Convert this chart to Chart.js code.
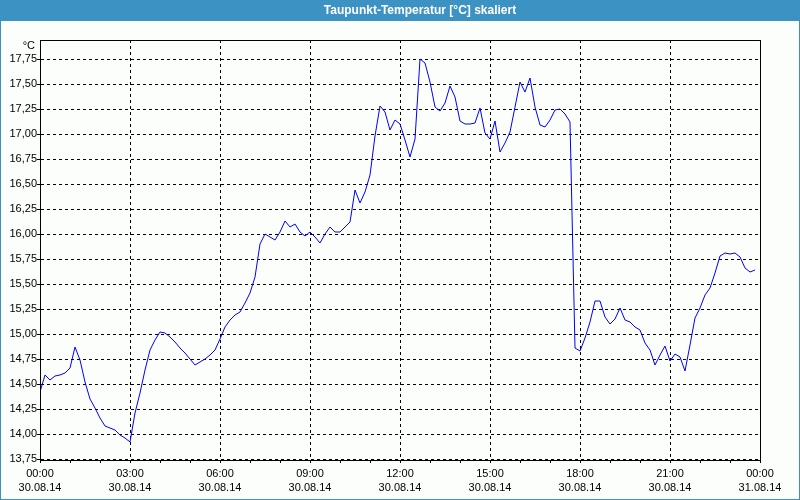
<!DOCTYPE html>
<html>
<head>
<meta charset="utf-8">
<script src="https://cdn.jsdelivr.net/npm/chart.js@4"></script>
<style>
  body { margin: 0; background: #ffffff; }
  #wrap { width: 800px; height: 500px; }
</style>
</head>
<body>
<div id="wrap"><canvas id="myChart" width="800" height="500"></canvas></div>
<script>
const CHART = document.getElementById("myChart");

// Taupunkt every 10 minutes, 30.08.14 00:00 onwards
var taupunkt = [
  14.42, 14.59, 14.54, 14.58, 14.59, 14.61, 14.66, 14.87, 14.74, 14.52,
  14.35, 14.26, 14.16, 14.08, 14.06, 14.04, 13.99, 13.96, 13.92, 14.21,
  14.41, 14.64, 14.84, 14.94, 15.02, 15.01, 14.97, 14.92, 14.86, 14.81,
  14.75, 14.69, 14.72, 14.75, 14.79, 14.84, 14.95, 15.07, 15.14, 15.19,
  15.22, 15.31, 15.41, 15.57, 15.90, 16.00, 15.97, 15.94, 16.02, 16.13,
  16.07, 16.10, 16.02, 15.98, 16.02, 15.97, 15.91, 16.00, 16.07, 16.02,
  16.02, 16.07, 16.12, 16.44, 16.31, 16.42, 16.59, 16.98, 17.28, 17.22,
  17.04, 17.14, 17.10, 16.94, 16.77, 16.95, 17.75, 17.71, 17.52, 17.27,
  17.23, 17.31, 17.48, 17.37, 17.13, 17.10, 17.10, 17.11, 17.26, 17.01,
  16.95, 17.13, 16.82, 16.91, 17.02, 17.27, 17.52, 17.42, 17.56, 17.27,
  17.09, 17.07, 17.14, 17.24, 17.25, 17.20, 17.12, 14.86, 14.83, 14.96,
  15.12, 15.33, 15.33, 15.17, 15.10, 15.15, 15.26, 15.14, 15.12, 15.07,
  15.04, 14.91, 14.84, 14.69, 14.79, 14.88, 14.73, 14.80, 14.77, 14.63,
  14.89, 15.16, 15.26, 15.39, 15.46, 15.61, 15.78, 15.81, 15.80, 15.81,
  15.77, 15.66, 15.62, 15.64
];
var minuten = taupunkt.map(function (v, i) { return i * 10; });

var yTicks = [13.75, 14.00, 14.25, 14.50, 14.75, 15.00, 15.25, 15.50, 15.75, 16.00, 16.25, 16.50, 16.75, 17.00, 17.25, 17.50, 17.75];
var xTickMinutes = [0, 180, 360, 540, 720, 900, 1080, 1260, 1440];
var xTickTimes = ["00:00", "03:00", "06:00", "09:00", "12:00", "15:00", "18:00", "21:00", "00:00"];
var xTickDates = ["30.08.14", "30.08.14", "30.08.14", "30.08.14", "30.08.14", "30.08.14", "30.08.14", "30.08.14", "31.08.14"];

var punkte = minuten.map(function (m, i) { return { x: m, y: taupunkt[i] }; });

var rahmen = {
  id: 'rahmen',
  beforeDraw: function (chart) {
    var ctx = chart.ctx;
    ctx.save();
    ctx.fillStyle = '#fbfefb';
    ctx.fillRect(0, 0, 800, 500);
    ctx.fillStyle = '#3d92c4';
    ctx.fillRect(0, 0, 800, 21);
    ctx.fillRect(0, 0, 1, 500);
    ctx.fillRect(799, 0, 1, 500);
    ctx.fillRect(0, 499, 800, 1);
    ctx.fillStyle = '#ffffff';
    ctx.font = 'bold 12px "Liberation Sans", Arial, sans-serif';
    ctx.textAlign = 'center';
    ctx.textBaseline = 'middle';
    ctx.fillText('Taupunkt-Temperatur [°C] skaliert', 420, 11);
    ctx.restore();
  },
  afterDraw: function (chart) {
    var ctx = chart.ctx;
    var a = chart.chartArea;
    ctx.save();
    ctx.setLineDash([]);
    ctx.strokeStyle = '#000000';
    ctx.lineWidth = 1;
    ctx.strokeRect(Math.round(a.left) + 0.5, Math.round(a.top) + 0.5, Math.round(a.right - a.left), Math.round(a.bottom - a.top));
    ctx.fillStyle = '#000000';
    ctx.font = '11px "Liberation Sans", Arial, sans-serif';
    ctx.textAlign = 'right';
    ctx.textBaseline = 'middle';
    ctx.fillText('°C', 35, 46);
    ctx.restore();
  }
};

let myChart = new Chart(CHART, {
  type: 'line',
  data: {
    datasets: [{
      label: 'Taupunkt',
      data: punkte,
      borderColor: '#0000ff',
      borderWidth: 1,
      pointRadius: 0,
      tension: 0,
      fill: false
    }]
  },
  plugins: [rahmen],
  options: {
    responsive: false,
    animation: false,
    layout: { padding: { top: 40, right: 40, left: 0, bottom: 0 } },
    plugins: {
      legend: { display: false },
      tooltip: { enabled: false }
    },
    scales: {
      x: {
        type: 'linear',
        min: 0,
        max: 1440,
        afterFit: function (scale) { scale.height = 40; },
        afterBuildTicks: function (scale) {
          var t = [];
          for (var m = 0; m <= 1440; m += 60) t.push({ value: m });
          scale.ticks = t;
        },
        ticks: {
          autoSkip: false,
          maxRotation: 0,
          padding: 4,
          color: '#000000',
          font: { family: '"Liberation Sans", Arial, sans-serif', size: 11, lineHeight: 1.3 },
          callback: function (value) {
            var k = xTickMinutes.indexOf(value);
            if (k < 0) return '';
            return [xTickTimes[k], xTickDates[k]];
          }
        },
        grid: {
          color: function (c) {
            return xTickMinutes.indexOf(c.tick.value) >= 0 ? '#000000' : 'rgba(0,0,0,0)';
          },
          lineWidth: 1,
          drawTicks: true,
          tickLength: 3,
          tickColor: '#000000',
          tickBorderDash: []
        },
        border: { display: true, color: '#000000', width: 1, dash: [3, 3] }
      },
      y: {
        type: 'linear',
        min: 13.74,
        max: 17.94,
        afterFit: function (scale) { scale.width = 40; },
        afterBuildTicks: function (scale) {
          scale.ticks = yTicks.map(function (v) { return { value: v }; });
        },
        ticks: {
          autoSkip: false,
          padding: 0,
          color: '#000000',
          font: { family: '"Liberation Sans", Arial, sans-serif', size: 11 },
          callback: function (value) { return value.toFixed(2).replace('.', ','); }
        },
        grid: {
          color: '#000000',
          lineWidth: 1,
          drawTicks: true,
          tickLength: 3,
          tickColor: '#000000',
          tickBorderDash: []
        },
        border: { display: true, color: '#000000', width: 1, dash: [3, 3] }
      }
    }
  }
});
</script>
</body>
</html>
